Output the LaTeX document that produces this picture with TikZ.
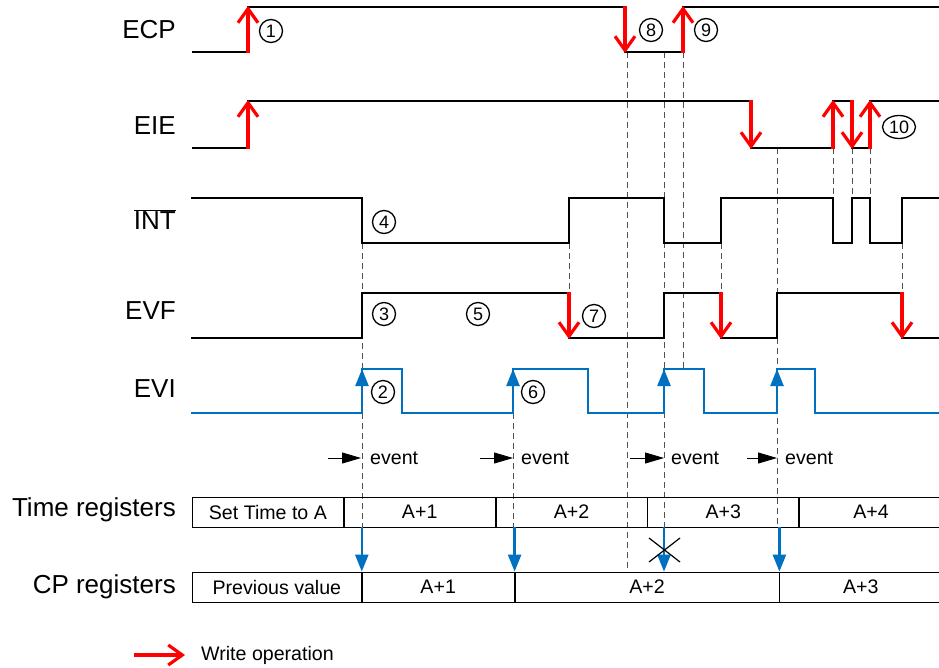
\documentclass[tikz,border=0pt]{standalone}
\usepackage{fontspec}
\setmainfont{Liberation Sans}
\usetikzlibrary{arrows.meta,shapes.geometric}
\definecolor{wred}{HTML}{FF0000}
\definecolor{evblue}{HTML}{0070C0}
\definecolor{guide}{HTML}{505050}

\begin{document}
\begin{tikzpicture}[x=1pt,y=-1pt,
  sig/.style={line width=2.6pt,black,line join=miter},
  evsig/.style={line width=2.6pt,color=evblue},
  guideline/.style={dash pattern=on 6pt off 4pt,line width=0.8pt,color=guide},
  write/.style={-{Straight Barb[length=14pt,width=20pt,line width=3.2pt]},line width=3.4pt,color=wred},
  copyarrow/.style={-{Triangle[length=17pt,width=13pt]},line width=2.4pt,color=evblue},
  eventarrow/.style={-{Triangle[length=19pt,width=11pt]},line width=0.9pt},
  siglabel/.style={anchor=east,inner sep=0pt,font=\fontsize{26}{30}\selectfont},
  regbox/.style={draw,line width=0.8pt,minimum height=30pt,inner sep=0pt,anchor=west,font=\fontsize{19.6}{22}\selectfont},
  num/.style={circle,draw,line width=1.3pt,minimum size=23pt,inner sep=0pt,font=\fontsize{18}{20}\selectfont},
  evtext/.style={anchor=west,inner sep=0pt,font=\fontsize{19.6}{22}\selectfont}]
\useasboundingbox (0,0) rectangle (939,667);
% signal names
\node[siglabel] (ecp) at (176,30) {ECP};
\node[siglabel] (eie) at (176,126) {EIE};
\node[siglabel] (int) at (176,220) {$\overline{\mbox{INT}}$};
\node[siglabel] (evf) at (176,311) {EVF};
\node[siglabel] (evi) at (176,389) {EVI};
\node[siglabel] (treg) at (176,510) {Time registers};
\node[siglabel] (creg) at (176,587) {CP registers};
% dashed guides
\draw[guideline] (362,243) -- (362,527);
\draw[guideline] (513,413) -- (513,527);
\draw[guideline] (569,243) -- (569,293);
\draw[guideline] (627,52) -- (627,572);
\draw[guideline] (664,52) -- (664,527);
\draw[guideline] (683,52) -- (683,369);
\draw[guideline] (721,243) -- (721,293);
\draw[guideline] (777,148) -- (777,527);
\draw[guideline] (833,148) -- (833,198);
\draw[guideline] (852,148) -- (852,198);
\draw[guideline] (870,148) -- (870,198);
\draw[guideline] (902,243) -- (902,293);
% waveforms
\draw[sig] (192,52) -- (248,52) -- (248,7) -- (625,7) -- (625,52) -- (683,52) -- (683,7) -- (939,7);
\draw[sig] (192,148) -- (248,148) -- (248,101) -- (751,101) -- (751,148) -- (833,148) -- (833,101) -- (852,101) -- (852,148) -- (870,148) -- (870,101) -- (939,101);
\draw[sig] (191,198) -- (362,198) -- (362,243) -- (569,243) -- (569,198) -- (664,198) -- (664,243) -- (721,243) -- (721,198) -- (833,198) -- (833,243) -- (852,243) -- (852,198) -- (870,198) -- (870,243) -- (902,243) -- (902,198) -- (939,198);
\draw[sig] (191,338) -- (362,338) -- (362,293) -- (569,293) -- (569,338) -- (664,338) -- (664,293) -- (721,293) -- (721,338) -- (777,338) -- (777,293) -- (902,293) -- (902,338) -- (939,338);
\draw[evsig] (191,413) -- (362,413) -- (362,369) -- (402,369) -- (402,413) -- (513,413) -- (513,369) -- (588,369) -- (588,413) -- (664,413) -- (664,369) -- (704,369) -- (704,413) -- (777,413) -- (777,369) -- (815,369) -- (815,413) -- (939,413);
% write operations
\draw[write] (248,53) -- (248,6);
\draw[write] (625,6) -- (625,53);
\draw[write] (683,53) -- (683,6);
\draw[write] (248,149) -- (248,100);
\draw[write] (751,100) -- (751,149);
\draw[write] (833,149) -- (833,100);
\draw[write] (852,100) -- (852,149);
\draw[write] (870,149) -- (870,100);
\draw[write] (569,292) -- (569,339);
\draw[write] (721,292) -- (721,339);
\draw[write] (902,292) -- (902,339);
% events
\draw[copyarrow] (362,413) -- (362,369);
\draw[copyarrow] (513,413) -- (513,369);
\draw[copyarrow] (664,413) -- (664,369);
\draw[copyarrow] (777,413) -- (777,369);
\node[num] (n1) at (271,31) {1};
\node[num] (n2) at (383,392) {2};
\node[num] (n3) at (384,314) {3};
\node[num] (n4) at (384,222) {4};
\node[num] (n5) at (478,314) {5};
\node[num] (n6) at (533,392) {6};
\node[num] (n7) at (594,316) {7};
\node[num] (n8) at (651,30) {8};
\node[num] (n9) at (706,30) {9};
\node[num,ellipse,minimum width=33pt,minimum height=23pt] (n10) at (899,127) {10};
\node[evtext] (ev1) at (370,458) {event};
\node[evtext] (ev2) at (521,458) {event};
\node[evtext] (ev3) at (671,458) {event};
\node[evtext] (ev4) at (785,458) {event};
\draw[eventarrow] (328,458) -- (361,458);
\draw[eventarrow] (480,458) -- (513,458);
\draw[eventarrow] (630,458) -- (664,458);
\draw[eventarrow] (747,458) -- (777,458);
% registers
\node[regbox,minimum width=151pt] (tr1) at (192,512) {Set Time to A};
\node[regbox,minimum width=151pt] (tr2) at (tr1.east) {A+1};
\node[regbox,minimum width=151pt] (tr3) at (tr2.east) {A+2};
\node[regbox,minimum width=151pt] (tr4) at (tr3.east) {A+3};
\node[regbox,minimum width=143pt] (tr5) at (tr4.east) {A+4};
\node[regbox,minimum width=169pt] (cp1) at (192,587) {Previous value};
\node[regbox,minimum width=152pt] (cp2) at (cp1.east) {A+1};
\node[regbox,minimum width=264pt] (cp3) at (cp2.east) {A+2};
\node[regbox,minimum width=162pt] (cp4) at (cp3.east) {A+3};
\draw[copyarrow] (cp2.north west |- tr1.south) -- (cp2.north west);
\draw[copyarrow] (cp3.north west |- tr1.south) -- (cp3.north west);
\draw[copyarrow] (664,527) -- (cp3.north -| 664,0);
\draw[copyarrow] (cp4.north west |- tr1.south) -- (cp4.north west);
\draw[line width=1.2pt] (649,538) -- (680,562) (649,562) -- (680,538);
% legend
\coordinate (lgstart) at (134,655);
\node[evtext] (lgtext) at (201,655) {Write operation};
\draw[write] (lgstart) -- ([xshift=-16pt]lgtext.west);
\end{tikzpicture}
\end{document}
